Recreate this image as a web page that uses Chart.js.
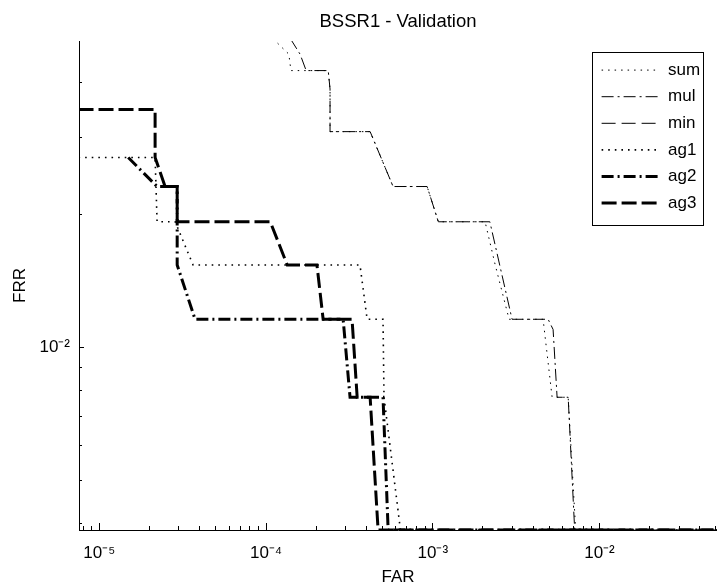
<!DOCTYPE html>
<html>
<head>
<meta charset="utf-8">
<script src="https://cdn.jsdelivr.net/npm/chart.js@4.4.1/dist/chart.umd.min.js"></script>
<style>
html,body{margin:0;padding:0;background:#fff;}
canvas{display:block;}
</style>
</head>
<body>
<canvas id="c" width="717" height="586"></canvas>
<script>
// ---------------- data ----------------
const seriesNames = ['sum', 'mul', 'min', 'ag1', 'ag2', 'ag3'];

const sumFAR = [1.10e-4, 1.37e-4, 1.41e-4, 2.36e-4, 2.42e-4, 2.42e-4, 4.21e-4, 5.78e-4, 9.25e-4, 1.08e-3, 2.06e-3, 2.37e-3, 2.87e-3, 4.59e-3, 5.20e-3, 6.49e-3, 7.20e-3, 6.0e-2];
const sumFRR = [0.0502, 0.0463, 0.0425, 0.0425, 0.0386, 0.0309, 0.0309, 0.0232, 0.0232, 0.0193, 0.0193, 0.0154, 0.0116, 0.0116, 0.00772, 0.00772, 0.00386, 0.00386];

const mulFAR = [1.40e-4, 1.60e-4, 1.74e-4, 2.36e-4, 2.42e-4, 2.42e-4, 4.21e-4, 5.78e-4, 9.25e-4, 1.08e-3, 2.20e-3, 2.99e-3, 4.92e-3, 5.27e-3, 5.57e-3, 6.49e-3, 7.10e-3, 6.0e-2];
const mulFRR = [0.0502, 0.0463, 0.0425, 0.0425, 0.0386, 0.0309, 0.0309, 0.0232, 0.0232, 0.0193, 0.0193, 0.0116, 0.0116, 0.0110, 0.00772, 0.00772, 0.00386, 0.00386];

const minFAR = [7.5e-6, 6.0e-2];
const minFRR = [0.06, 0.06];

const ag1FAR = [7.5e-6, 2.16e-5, 2.22e-5, 2.85e-5, 3.65e-5, 3.66e-4, 4.04e-4, 5.03e-4, 5.10e-4, 6.40e-4, 6.0e-2];
const ag1FRR = [0.0270, 0.0270, 0.0193, 0.0193, 0.0154, 0.0154, 0.0116, 0.0116, 0.00772, 0.00386, 0.00386];

const ag2FAR = [1.49e-5, 2.22e-5, 2.93e-5, 2.93e-5, 3.75e-5, 2.90e-4, 3.19e-4, 5.03e-4, 5.40e-4, 6.0e-2];
const ag2FRR = [0.0270, 0.0232, 0.0232, 0.0154, 0.0116, 0.0116, 0.00772, 0.00772, 0.00386, 0.00386];

const ag3FAR = [7.5e-6, 2.16e-5, 2.16e-5, 2.48e-5, 2.93e-5, 2.93e-5, 1.06e-4, 1.34e-4, 2.02e-4, 2.20e-4, 3.28e-4, 3.52e-4, 4.21e-4, 4.70e-4, 6.0e-2];
const ag3FRR = [0.0347, 0.0347, 0.0270, 0.0232, 0.0232, 0.0193, 0.0193, 0.0154, 0.0154, 0.0116, 0.0116, 0.00772, 0.00772, 0.00386, 0.00386];

// axes
const xRange = [7.55e-6, 0.0507];
const yRange = [0.00386, 0.0496];
const xMajorTicks = [1e-5, 1e-4, 1e-3, 1e-2];
const xMajorLabels = ['10\u207B\u2075', '10\u207B\u2074', '10\u207B\u00B3', '10\u207B\u00B2'];
const yMajorTicks = [1e-2];
const yMajorLabels = ['10\u207B\u00B2'];
const minorMultipliers = [1, 2, 3, 4, 5, 6, 7, 8, 9];

const titleText = 'BSSR1 - Validation';
const xTitle = 'FAR';
const yTitle = 'FRR';

// ---------------- helpers ----------------
const FONT = '"Liberation Sans", Arial, Helvetica, sans-serif';
const LEG = {x: 592, y: 52, w: 111, h: 173};

function pts(far, frr) { return far.map((x, i) => ({x: x, y: frr[i]})); }

function logTicks(range) {
  const out = [];
  const d0 = Math.floor(Math.log10(range[0])), d1 = Math.ceil(Math.log10(range[1]));
  for (let d = d0; d <= d1; d++) {
    for (const m of minorMultipliers) {
      const v = m * Math.pow(10, d);
      if (v >= range[0] && v <= range[1]) out.push({value: v});
    }
  }
  return out;
}
function labelFor(v, majors, labels) {
  for (let i = 0; i < majors.length; i++) {
    if (Math.abs(v / majors[i] - 1) < 1e-6) return labels[i];
  }
  return '';
}
function noPad(s) { s.paddingLeft = 0; s.paddingRight = 0; s.paddingTop = 0; s.paddingBottom = 0; }

const styles = {
  sum: {borderWidth: 1, borderDash: [1.5, 5]},
  mul: {borderWidth: 1, borderDash: [12, 4, 2, 4]},
  min: {borderWidth: 1, borderDash: [14, 6]},
  ag1: {borderWidth: 1.6, borderDash: [1.6, 5]},
  ag2: {borderWidth: 3, borderDash: [12, 4, 2, 4]},
  ag3: {borderWidth: 3, borderDash: [15, 5]}
};
const seriesData = {
  sum: pts(sumFAR, sumFRR), mul: pts(mulFAR, mulFRR), min: pts(minFAR, minFRR),
  ag1: pts(ag1FAR, ag1FRR), ag2: pts(ag2FAR, ag2FRR), ag3: pts(ag3FAR, ag3FRR)
};

const datasets = seriesNames.map(n => ({
  label: n,
  data: seriesData[n],
  showLine: true,
  borderColor: '#000',
  backgroundColor: '#000',
  borderWidth: styles[n].borderWidth,
  borderDash: styles[n].borderDash,
  borderCapStyle: 'butt',
  borderJoinStyle: 'miter',
  pointRadius: 0,
  pointHoverRadius: 0,
  fill: false,
  tension: 0
}));

// place the built-in legend inside the plot area, like the reference
const legendPlacer = {
  id: 'legendPlacer',
  afterInit(chart) {
    const i = chart.boxes.indexOf(chart.legend);
    if (i >= 0) chart.boxes.splice(i, 1);
  },
  afterLayout(chart) {
    const lg = chart.legend;
    if (!lg) return;
    lg.update(LEG.w, LEG.h + 20, {left: 0, top: 0, right: 0, bottom: 0});
    lg.left = LEG.x; lg.top = LEG.y;
    lg.width = LEG.w; lg.height = LEG.h;
    lg.right = LEG.x + LEG.w; lg.bottom = LEG.y + LEG.h;
  },
  afterDraw(chart) {
    const c = chart.ctx;
    c.save();
    c.setLineDash([]);
    c.fillStyle = '#fff';
    c.fillRect(LEG.x, LEG.y, LEG.w, LEG.h);
    c.strokeStyle = '#000';
    c.lineWidth = 1;
    c.strokeRect(LEG.x + 0.5, LEG.y + 0.5, LEG.w, LEG.h);
    c.restore();
    if (chart.legend) chart.legend.draw();
  }
};

const tickFont = {family: FONT, size: 17};
const markGrid = (len) => ({display: true, drawOnChartArea: false, drawTicks: true, tickLength: len, tickColor: '#000', tickWidth: 1});

new Chart(document.getElementById('c').getContext('2d'), {
  type: 'scatter',
  data: {datasets: datasets},
  options: {
    responsive: false,
    animation: false,
    devicePixelRatio: 1,
    events: [],
    layout: {padding: 0, autoPadding: false},
    elements: {point: {radius: 0}, line: {tension: 0}},
    plugins: {
      tooltip: {enabled: false},
      title: {
        display: true, text: titleText, fullSize: false, color: '#000',
        font: {family: FONT, size: 18.5, weight: 'normal', lineHeight: 1.2},
        padding: {top: 11, bottom: 7.8}
      },
      legend: {
        display: true, position: 'right', align: 'start',
        labels: {
          usePointStyle: true, pointStyle: 'line', pointStyleWidth: 58,
          boxHeight: 17, padding: 9.6, color: '#000',
          font: {family: FONT, size: 17},
          generateLabels: (chart) => chart.data.datasets.map((ds, i) => ({
            text: ds.label, datasetIndex: i, hidden: false,
            fillStyle: 'rgba(0,0,0,0)', strokeStyle: ds.borderColor,
            lineWidth: ds.borderWidth, lineDash: ds.borderDash, lineDashOffset: 0,
            lineCap: 'butt', pointStyle: 'line', fontColor: '#000'
          }))
        }
      }
    },
    scales: {
      x: {
        type: 'logarithmic', position: 'bottom', weight: 0,
        min: xRange[0], max: xRange[1],
        afterBuildTicks: (s) => { s.ticks = logTicks(xRange); },
        afterFit: (s) => { s.height = 56; noPad(s); },
        ticks: {
          autoSkip: false, maxRotation: 0, minRotation: 0, padding: 17, color: '#000',
          font: tickFont,
          callback: (v) => labelFor(v, xMajorTicks, xMajorLabels)
        },
        grid: markGrid(-4),
        border: {display: true, color: '#000', width: 1},
        title: {display: true, text: xTitle, color: '#000', font: {family: FONT, size: 17, lineHeight: 1}, padding: {top: 0, bottom: 0.5}}
      },
      xMajor: {
        type: 'logarithmic', position: 'bottom', weight: -1,
        min: xRange[0], max: xRange[1],
        afterBuildTicks: (s) => { s.ticks = xMajorTicks.map(v => ({value: v})); },
        afterFit: (s) => { s.height = 0; noPad(s); },
        ticks: {autoSkip: false, maxRotation: 0, padding: 0, font: {size: 1}, callback: () => ''},
        grid: markGrid(-7),
        border: {display: false}
      },
      y: {
        type: 'logarithmic', position: 'left', weight: 0,
        min: yRange[0], max: yRange[1],
        afterBuildTicks: (s) => { s.ticks = logTicks(yRange); },
        afterFit: (s) => { s.width = 79; noPad(s); },
        ticks: {
          autoSkip: false, padding: 12, color: '#000',
          font: tickFont,
          callback: (v) => labelFor(v, yMajorTicks, yMajorLabels)
        },
        grid: markGrid(-3),
        border: {display: true, color: '#000', width: 1},
        title: {display: true, text: yTitle, color: '#000', font: {family: FONT, size: 17, lineHeight: 1}, padding: {top: 11.5, bottom: 0}}
      },
      yMajor: {
        type: 'logarithmic', position: 'left', weight: -1,
        min: yRange[0], max: yRange[1],
        afterBuildTicks: (s) => { s.ticks = yMajorTicks.map(v => ({value: v})); },
        afterFit: (s) => { s.width = 0; noPad(s); },
        ticks: {autoSkip: false, padding: 0, font: {size: 1}, callback: () => ''},
        grid: markGrid(-5),
        border: {display: false}
      }
    }
  },
  plugins: [legendPlacer]
});
</script>
</body>
</html>
